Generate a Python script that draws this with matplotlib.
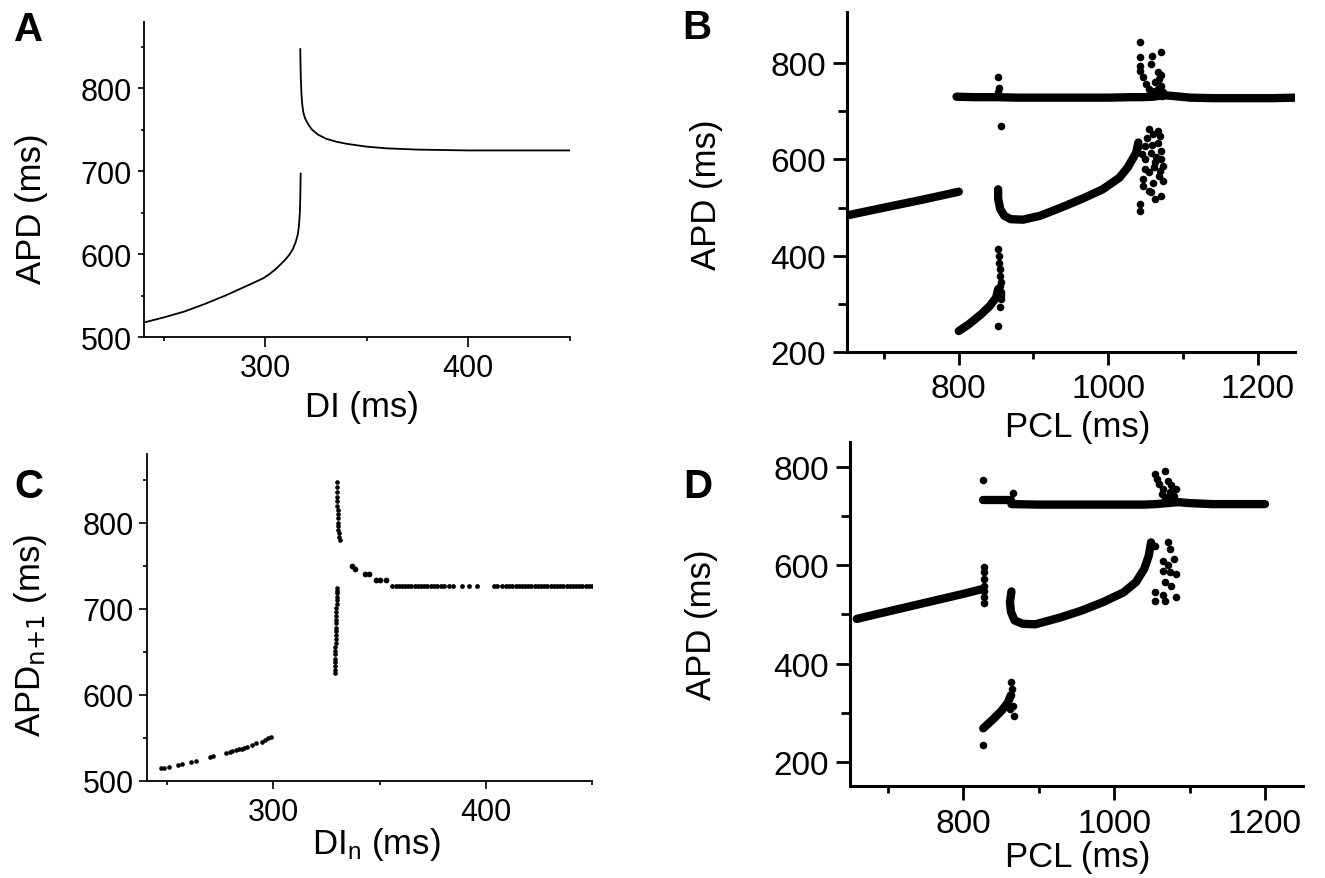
import matplotlib
matplotlib.use("Agg")
import matplotlib.pyplot as plt

plt.rcParams['font.family'] = ['Liberation Sans', 'DejaVu Sans']
plt.rcParams['mathtext.default'] = 'regular'

# ---------------- Panel A : restitution curve ----------------
a_low_di  = [240.4, 250, 260, 270, 280, 290, 298.9, 302, 305, 308, 310, 312, 313.5, 315, 316, 316.5, 317, 317.2, 317.4]
a_low_apd = [518, 524, 531, 540, 550, 561, 571, 576, 582, 589, 594, 600, 606, 615, 624, 633, 650, 668, 697]
a_up_di   = [317.2, 317.3, 317.5, 317.8, 318.2, 318.7, 319.5, 321, 323, 326, 330, 335, 340, 350, 360, 375, 400, 425, 450]
a_up_apd  = [847, 830, 810, 792, 780, 771, 764, 757, 750, 744, 739, 735.5, 733, 729.5, 727.5, 726, 725, 725, 725]

# ---------------- Panel B : APD vs PCL ----------------
b_top_pcl = [797, 820, 850, 880, 920, 960, 1000, 1030, 1045, 1060, 1075, 1090, 1110, 1140, 1180, 1220, 1250]
b_top_apd = [730, 729, 729, 728, 728, 728, 728, 729, 729, 730, 733, 731, 728, 727, 727, 727, 728]
b_midL_pcl = [651, 700, 750, 800]
b_midL_apd = [484, 500, 516, 533]
b_midR_pcl = [852.7, 852.7, 855.5, 861, 869.5, 886, 908.7, 936.7, 964.7, 992.7, 1015, 1026, 1037.5, 1040.3]
b_midR_apd = [538, 518, 497, 483, 476, 475, 483, 500, 518, 538, 562, 583, 614, 635]
b_low_pcl = [800, 813.4, 830, 841.5, 850, 852.7]
b_low_apd = [244, 258, 279, 296, 313.5, 331]
b_sc_pcl = [853, 854, 853, 856,
            1042, 1043, 1059, 1071, 1043, 1057, 1043, 1046, 1050, 1054, 1060,
            1066, 1068, 1071, 1063, 1074, 1066, 1070, 1062, 1065, 1072,
            1054, 1066, 1060, 1069, 1049, 1066, 1057, 1071, 1049, 1063, 1074, 1054, 1068,
            1046, 1060, 1074, 1054, 1071, 1063, 1043, 1043, 1057, 1049, 1071, 1040, 1045,
            1052, 1058, 1064, 1047, 1069, 1061,
            852.7, 853.8, 854, 855.5, 855.5, 856, 856.6, 856, 855.5, 852.7, 855, 856]
b_sc_apd = [770, 748, 740, 670,
            844, 812, 815, 823, 794, 798, 784, 770, 756, 746, 736,
            781, 767, 753, 760, 739, 746, 774, 742, 735, 732,
            663, 659, 653, 649, 628, 635, 614, 618, 601, 594, 587, 573, 566,
            559, 552, 556, 535, 525, 518, 507, 493, 532, 580, 601, 625, 612,
            645, 630, 605, 545, 575, 585,
            414, 400, 386, 372, 358.5, 345, 324, 310, 293, 255, 338, 318]

# ---------------- Panel C : return map ----------------
c_low_di  = [247.2, 248.7, 251, 255, 257, 261.4, 263.7, 270, 271.6, 277.9, 279.5, 280.3, 282.6, 284, 285,
             286.2, 287.4, 289.7, 292, 294.5, 296, 297.6, 298.9]
c_low_apd = [514.7, 515, 515.5, 518.6, 519.8, 522, 522.9, 528, 528.7, 532.6, 533.4, 534, 535.7, 536.4, 537.2,
             538, 538.8, 541.9, 543.8, 545.3, 546.9, 549.2, 550.4]
c_vlo_di  = [328.8, 328.9, 329, 329, 329.1, 329.1, 329.2, 329.2, 329.3, 329.3, 329.4, 329.4, 329.5, 329.5,
             329.6, 329.6, 329.7, 329.7, 329.8, 329.8, 329.9, 329.9, 330, 330]
c_vlo_apd = [625, 629, 633, 638, 642, 647, 651, 656, 660, 665, 669, 674, 678, 683,
             687, 692, 696, 701, 705, 710, 714, 718, 721, 724]
c_vup_di  = [331.2, 330.9, 330.7, 330.5, 330.4, 330.3, 330.3, 330.2, 330.2, 330.1, 330.1, 330.1, 330, 330, 330]
c_vup_apd = [780, 784, 788, 792, 796, 800, 805, 810, 815, 820, 825, 830, 836, 842, 848]
c_dec_di  = [337, 338.6, 343.3, 344.9, 348.4, 350.4, 352.8]
c_dec_apd = [749.6, 745.7, 740.7, 740, 734, 734, 734]
c_flat_di = [356, 357.5, 359, 360.5, 362, 363.5, 365, 366.5, 368, 369.5, 371, 372.5, 374, 375.5, 377,
             379, 380.5, 382.5, 384.5, 389, 392, 396, 404, 405.5, 407.5, 409.5,
             411, 412.5, 414, 415.5, 417, 418.5, 420, 421.5, 423, 424.5, 426, 427.5, 429, 430.5,
             432, 433.5, 435, 436.5, 438, 439.5, 441, 442.5, 444, 445.5, 447, 448.5, 450]
c_flat_apd = [726.4] * len(c_flat_di)

# ---------------- Panel D : APD vs PCL ----------------
d_topL_pcl = [826, 845, 864]
d_topL_apd = [734, 734, 734]
d_top_pcl = [864, 900, 950, 1000, 1040, 1055, 1070, 1085, 1100, 1130, 1160, 1200]
d_top_apd = [725, 724, 724, 724, 724, 725, 727, 729, 727, 725, 725, 725]
d_midL_pcl = [659, 700, 750, 800, 823]
d_midL_apd = [491, 506, 524, 542, 551]
d_midR_pcl = [864, 862, 863.4, 868, 879, 895.7, 929, 957, 985, 1012.5, 1029, 1040, 1046, 1049]
d_midR_apd = [547, 525, 505, 488, 481, 480, 494, 508, 525, 545, 566, 593, 620, 647]
d_low_pcl = [826.6, 840, 851, 859.5, 863]
d_low_apd = [268, 287, 304, 321, 335]
d_sc_pcl = [826.6, 866,
            1068, 1054, 1057, 1060, 1065, 1071, 1076, 1074, 1079, 1082, 1068, 1076, 1063, 1072,
            827, 827, 827, 827, 827, 827, 827,
            1054, 1071, 1074, 1065, 1079, 1065, 1074, 1082, 1068, 1076, 1054, 1065, 1082, 1054, 1068, 1071,
            864, 865, 864, 866, 867, 862, 826.6]
d_sc_apd = [775, 747,
            793, 786, 776, 766, 756, 773, 763, 749, 742, 756, 739, 732, 745, 737,
            597, 586, 572, 559, 547, 536, 524,
            640, 647, 634, 610, 613, 589, 586, 583, 566, 559, 545, 539, 535, 528, 528, 600,
            362, 348, 335, 314, 294, 308, 233]

W, H = 1325, 879
fig = plt.figure(figsize=(W / 100, H / 100), dpi=100)


def make_ax(l, b, w, h, spine_lw):
    ax = fig.add_axes([l / W, 1 - (b / H), w / W, h / H])
    for s in ['top', 'right']:
        ax.spines[s].set_visible(False)
    for s in ['left', 'bottom']:
        ax.spines[s].set_linewidth(spine_lw)
    return ax


# Panel A
axA = make_ax(143.7, 338.3, 425.9, 315.6, 1.3)
axA.plot(a_low_di, a_low_apd, color='black', lw=1.3)
axA.plot(a_up_di, a_up_apd, color='black', lw=1.3)
axA.set_xlim(240, 450)
axA.set_ylim(500, 880)
axA.set_xticks([300, 400])
axA.set_xticks([250, 350, 450], minor=True)
axA.set_yticks([500, 600, 700, 800])
axA.set_yticks([550, 650, 750, 850], minor=True)
axA.tick_params(axis='y', which='major', length=4.5, width=1.2, labelsize=22, pad=4)
axA.tick_params(axis='y', which='minor', length=2.5, width=1.2)
axA.tick_params(axis='x', which='major', length=7, width=1.2, labelsize=22, pad=4)
axA.tick_params(axis='x', which='minor', length=3, width=1.2)

# Panel B
axB = make_ax(846.7, 353.3, 448.3, 340.0, 2.2)
for xs, ys in [(b_top_pcl, b_top_apd), (b_midL_pcl, b_midL_apd), (b_midR_pcl, b_midR_apd), (b_low_pcl, b_low_apd)]:
    axB.plot(xs, ys, color='black', lw=6, solid_capstyle='round', solid_joinstyle='round')
axB.scatter(b_sc_pcl, b_sc_apd, s=30, color='black', linewidths=0)
axB.set_xlim(650, 1250)
axB.set_ylim(200, 905)
axB.set_xticks([800, 1000, 1200])
axB.set_xticks([700, 900, 1100], minor=True)
axB.set_yticks([200, 400, 600, 800])
axB.set_yticks([300, 500, 700], minor=True)
axB.tick_params(axis='y', which='major', length=10, width=2, labelsize=24, pad=5)
axB.tick_params(axis='y', which='minor', length=6.5, width=2)
axB.tick_params(axis='x', which='major', length=9, width=2, labelsize=24, pad=6)
axB.tick_params(axis='x', which='minor', length=5, width=2)

# Panel C
axC = make_ax(147, 781.7, 445, 326.7, 1.3)
for xs, ys, sz in [(c_low_di, c_low_apd, 11), (c_vlo_di, c_vlo_apd, 11), (c_vup_di, c_vup_apd, 11),
                   (c_dec_di, c_dec_apd, 17), (c_flat_di, c_flat_apd, 12)]:
    axC.scatter(xs, ys, s=sz, color='black', linewidths=0)
axC.set_xlim(240.5, 450)
axC.set_ylim(500, 880)
axC.set_xticks([300, 400])
axC.set_xticks([250, 350, 450], minor=True)
axC.set_yticks([500, 600, 700, 800])
axC.set_yticks([550, 650, 750, 850], minor=True)
axC.tick_params(axis='y', which='major', length=5.5, width=1.2, labelsize=22, pad=4)
axC.tick_params(axis='y', which='minor', length=3, width=1.2)
axC.tick_params(axis='x', which='major', length=5.5, width=1.2, labelsize=22, pad=6)
axC.tick_params(axis='x', which='minor', length=3, width=1.2)

# Panel D
axD = make_ax(850, 786.7, 452.7, 343.4, 2.2)
for xs, ys in [(d_topL_pcl, d_topL_apd), (d_top_pcl, d_top_apd), (d_midL_pcl, d_midL_apd),
               (d_midR_pcl, d_midR_apd), (d_low_pcl, d_low_apd)]:
    axD.plot(xs, ys, color='black', lw=6, solid_capstyle='round', solid_joinstyle='round')
axD.scatter(d_sc_pcl, d_sc_apd, s=30, color='black', linewidths=0)
axD.set_xlim(650, 1250)
axD.set_ylim(151, 851)
axD.set_xticks([800, 1000, 1200])
axD.set_xticks([700, 900, 1100], minor=True)
axD.set_yticks([200, 400, 600, 800])
axD.set_yticks([300, 500, 700], minor=True)
axD.tick_params(axis='y', which='major', length=10, width=2, labelsize=24, pad=5)
axD.tick_params(axis='y', which='minor', length=6.5, width=2)
axD.tick_params(axis='x', which='major', length=10, width=2, labelsize=24, pad=6)
axD.tick_params(axis='x', which='minor', length=5, width=2)


def ftext(x, y, s, **kw):
    fig.text(x / W, 1 - y / H, s, ha='center', va='center', **kw)


ftext(362, 407, 'DI (ms)', fontsize=25)
ftext(31, 209, 'APD (ms)', fontsize=25, rotation=90)
ftext(1078, 428, 'PCL (ms)', fontsize=25)
ftext(707, 195, 'APD (ms)', fontsize=25, rotation=90)
ftext(376, 845, 'DI$_n$ (ms)', fontsize=25)
ftext(31, 635, r'APD$_{\text{n+1}}$ (ms)', fontsize=25, rotation=90)
ftext(1078, 858, 'PCL (ms)', fontsize=25)
ftext(702, 625, 'APD (ms)', fontsize=25, rotation=90)

for lx, ly, s in [(29, 30, 'A'), (697, 28, 'B'), (29, 487, 'C'), (698, 487, 'D')]:
    ftext(lx, ly, s, fontsize=29, fontweight='bold')

fig.savefig('out.png', dpi=100)
